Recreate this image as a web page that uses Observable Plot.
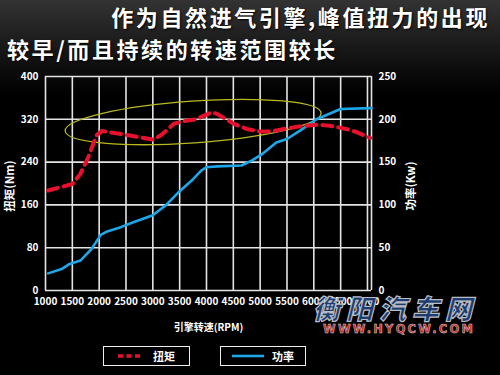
<!DOCTYPE html>
<html>
<head>
<meta charset="utf-8">
<script src="https://cdn.jsdelivr.net/npm/d3@7"></script>
<script src="https://cdn.jsdelivr.net/npm/@observablehq/plot@0.6"></script>
<style>
  body { margin: 0; background: #000; }
  #wrap {
    position: relative; width: 500px; height: 375px; overflow: hidden;
    background: linear-gradient(180deg, #333 0px, #222 30px, #0c0c0c 70px, #000 95px);
    font-family: "Noto Sans CJK SC", "Noto Sans", sans-serif; color: #fff;
  }
  #chart { position: absolute; left: 0; top: 0; }
  .t { position: absolute; font-size: 22px; font-weight: 700; letter-spacing: 2.6px; line-height: 24px; white-space: nowrap; color: #fff; text-shadow: 1px 1px 2px #000; }
  .ytitle { position: absolute; font-size: 11.5px; font-weight: 700; line-height: 12px; white-space: nowrap; transform: translate(-50%, -50%) rotate(-90deg); }
  .legbox { position: absolute; top: 346px; height: 20px; border: 1.5px solid #eee; box-sizing: border-box; }
  .legtxt { position: absolute; top: 2px; font-size: 11px; font-weight: 700; line-height: 14px; color: #fff; }
  .wm1 { position: absolute; left: 313px; top: 294px; font-size: 27px; font-weight: 900; font-style: italic; line-height: 27px; color: #1d3b6e; -webkit-text-stroke: 1.2px #b8bcc4; letter-spacing: 6px; white-space: nowrap; }
  .wm2 { position: absolute; left: 323px; top: 323px; font-family: "DejaVu Sans", sans-serif; font-size: 11.5px; font-weight: 700; line-height: 13px; color: #c8282a; -webkit-text-stroke: 0.5px #ccc; letter-spacing: 2.2px; white-space: nowrap; }
</style>
</head>
<body>
<div id="wrap">
  <div id="chart"></div>
  <div class="t" style="right:10px; top:4px;">作为自然进气引擎,峰值扭力的出现</div>
  <div class="t" style="left:7px; top:36px;">较早/而且持续的转速范围较长</div>
  <div class="ytitle" style="left:9px; top:186px;">扭矩(Nm)</div>
  <div class="ytitle" style="left:410px; top:186px;">功率(Kw)</div>
  <div class="legbox" style="left:103px; width:87px;">
    <svg style="position:absolute; left:14px; top:7px;" width="26" height="4"><line x1="0" y1="2" x2="24" y2="2" stroke="#e8112d" stroke-width="3.5" stroke-dasharray="5,3.5"/></svg>
    <div class="legtxt" style="left:49px;">扭矩</div>
  </div>
  <div class="legbox" style="left:220px; width:86px;">
    <svg style="position:absolute; left:11px; top:7px;" width="34" height="4"><line x1="0" y1="2" x2="32" y2="2" stroke="#1ea7e8" stroke-width="2.6"/></svg>
    <div class="legtxt" style="left:51px;">功率</div>
  </div>
  <div class="wm1">衡阳汽车网</div>
  <div class="wm2">WWW.HYQCW.COM</div>
</div>
<script>
// RPM and torque (Nm) for the red dashed curve
const torqueRpm = [1050, 1500, 1650, 1800, 1950, 2050, 2500, 3000, 3150, 3400, 3550, 3800, 4100, 4200, 4500, 4750, 5000, 5200, 5450, 5750, 6050, 6300, 6600, 6800, 7050];
const torqueNm  = [187, 199, 218, 250, 290, 298, 291, 282, 290, 312, 316, 320, 333, 330, 312, 302, 297, 297, 302, 307, 310, 308, 302, 296, 285];
// RPM and power (kW) for the blue curve
const powerRpm = [1050, 1300, 1450, 1650, 1850, 2030, 2150, 2400, 2650, 3000, 3250, 3500, 3750, 3900, 4000, 4200, 4650, 4850, 5050, 5300, 5500, 5750, 6050, 6500, 7075];
const powerKw  = [20, 25, 31, 35, 48, 65, 69, 74, 80, 88, 100, 116, 130, 140, 144, 145, 146, 152, 160, 173, 177, 187, 200, 212, 213];
// axes
const xTicks = [1000, 1500, 2000, 2500, 3000, 3500, 4000, 4500, 5000, 5500, 6000, 6500, 7000];
const xMax = 7075;
const torqueTicks = [0, 80, 160, 240, 320, 400];
const powerTicks = [0, 50, 100, 150, 200, 250];
const K = 400 / 250; // power -> torque axis factor
// highlight ellipse (data coords)
const ellCenter = [3760, 314];
const ellRadius = [2390, 39];
const ellAngle = -4;

const torque = torqueRpm.map((r, i) => ({rpm: r, v: torqueNm[i]}));
const power = powerRpm.map((r, i) => ({rpm: r, v: powerKw[i] * K}));

const ellipseMark = (index, scales) => {
  const cx = scales.x(ellCenter[0]), cy = scales.y(ellCenter[1]);
  const rx = scales.x(ellCenter[0] + ellRadius[0]) - cx;
  const ry = cy - scales.y(ellCenter[1] + ellRadius[1]);
  const e = document.createElementNS("http://www.w3.org/2000/svg", "ellipse");
  e.setAttribute("cx", cx); e.setAttribute("cy", cy);
  e.setAttribute("rx", rx); e.setAttribute("ry", ry);
  e.setAttribute("transform", `rotate(${ellAngle} ${cx} ${cy})`);
  e.setAttribute("fill", "none"); e.setAttribute("stroke", "#b8b820"); e.setAttribute("stroke-width", 1.3);
  const g = document.createElementNS("http://www.w3.org/2000/svg", "g");
  g.appendChild(e);
  return g;
};

const plot = Plot.plot({
  width: 500, height: 375,
  marginLeft: 45, marginRight: 129, marginTop: 76, marginBottom: 85,
  style: {background: "transparent", color: "#fff", fontFamily: "'Noto Sans CJK SC', sans-serif", fontSize: "10px", fontWeight: "700"},
  x: {domain: [1000, xMax]},
  y: {domain: [0, 400]},
  marks: [
    Plot.ruleY(torqueTicks, {stroke: "#e4e4e4", strokeWidth: 1.6}),
    Plot.ruleX([...xTicks, xMax], {stroke: "#e4e4e4", strokeWidth: 1.6}),
    ellipseMark,
    Plot.line(power, {x: "rpm", y: "v", stroke: "#1ea7e8", strokeWidth: 2.6}),
    Plot.line(torque, {x: "rpm", y: "v", stroke: "#e8112d", strokeWidth: 4, strokeDasharray: "10,6"}),
    Plot.axisX({ticks: xTicks, tickSize: 0, tickPadding: 7, tickFormat: d => String(d), label: "引擎转速(RPM)", labelAnchor: "center", labelOffset: 40, labelArrow: "none"}),
    Plot.axisY({anchor: "left", ticks: torqueTicks, tickSize: 0, tickPadding: 7, label: null}),
    Plot.axisY({anchor: "right", ticks: powerTicks.map(p => p * K), tickFormat: d => String(Math.round(d / K)), tickSize: 0, tickPadding: 7, label: null})
  ]
});
document.getElementById("chart").appendChild(plot);
</script>
</body>
</html>
